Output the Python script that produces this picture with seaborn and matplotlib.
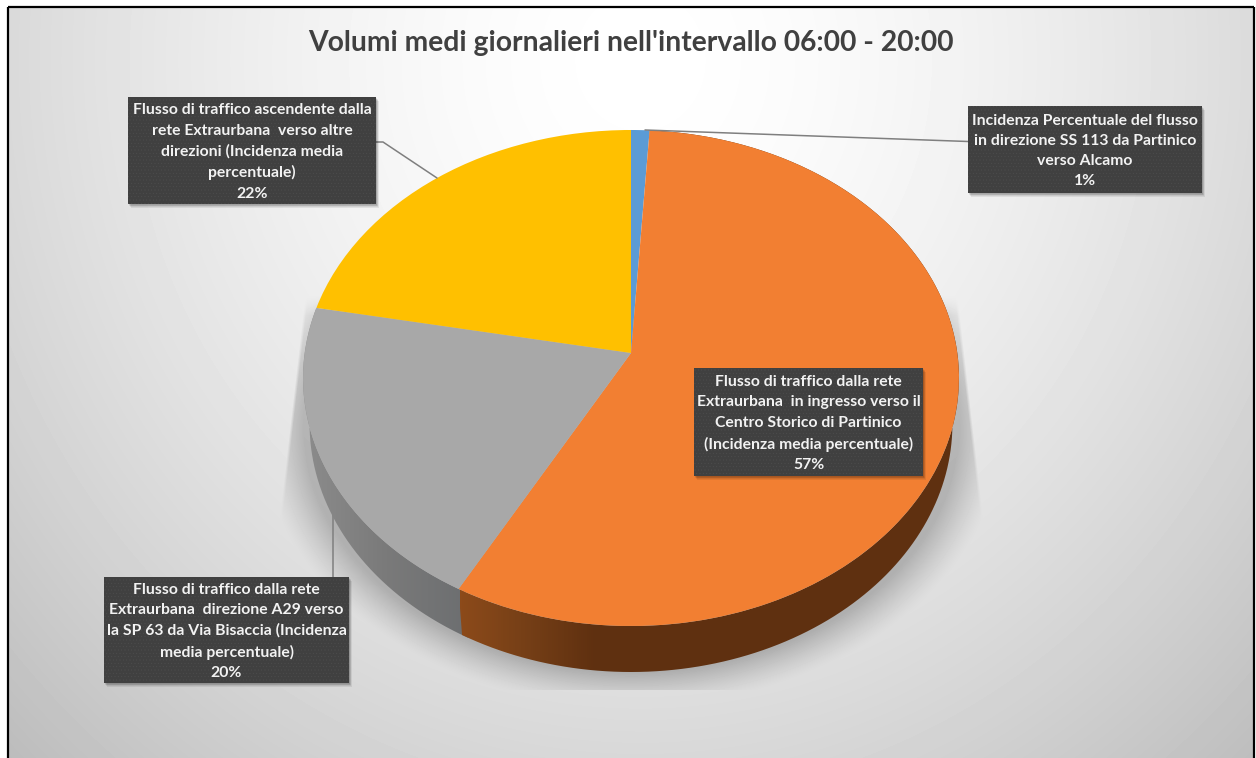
import numpy as np
import matplotlib
matplotlib.use("Agg")
import matplotlib.pyplot as plt
from matplotlib.path import Path
from matplotlib.patches import Rectangle
from matplotlib.transforms import Transform
from matplotlib.colors import LinearSegmentedColormap
import seaborn as sns

TITLE = "Volumi medi giornalieri nell'intervallo 06:00 - 20:00"
values = [1, 57, 20, 22]
colors = ["#5B9BD5", "#F27F32", "#A8A8A8", "#FFC000"]
labels = [
    "Incidenza Percentuale del flusso\nin direzione SS 113 da Partinico\nverso Alcamo\n1%",
    "Flusso di traffico dalla rete\nExtraurbana  in ingresso verso il\nCentro Storico di Partinico\n(Incidenza media percentuale)\n57%",
    "Flusso di traffico dalla rete\nExtraurbana  direzione A29 verso\nla SP 63 da Via Bisaccia (Incidenza\nmedia percentuale)\n20%",
    "Flusso di traffico ascendente dalla\nrete Extraurbana  verso altre\ndirezioni (Incidenza media\npercentuale)\n22%",
]
boxes = [(968, 106, 1202, 193), (694, 368, 923, 476), (104, 577, 349, 683), (128, 97, 376, 204)]
leaders = [
    ([968, 645], [141.5, 130]),
    None,
    ([333, 333], [577, 510]),
    ([376, 383, 437], [142, 142, 178]),
]

W, H = 1256, 758
sns.set_theme(style="white")
plt.rcParams["font.family"] = ["Lato", "DejaVu Sans"]
plt.rcParams["hatch.linewidth"] = 0.3
fig = plt.figure(figsize=(W / 100, H / 100), dpi=100, facecolor="white")
ax = fig.add_axes([0, 0, 1, 1])


class Tilt(Transform):
    """Perspective view of the unit pie, in pixels of the figure axes."""
    input_dims = output_dims = 2
    is_affine = False

    def transform_non_affine(self, xy):
        xy = np.asarray(xy, float)
        d = 1 + 0.1008 * xy[:, 1]
        return np.column_stack([631 + 326.3 * xy[:, 0] / d,
                                (353 - 209.9 * xy[:, 1]) / d])


def reset():
    ax.set_aspect("auto")
    ax.set_xlim(0, W)
    ax.set_ylim(H, 0)
    ax.axis("off")


# background
yy, xx = np.mgrid[0:H, 0:W].astype(float)
r = np.hypot((xx - 640) / 760, (yy - 60) / 820)
bg = 255 - 68 * (r / 1.2) ** 1.6
# soft shadow behind the pie
e = np.hypot((xx - 631) / 328, (yy - 424) / 248)
hw = 328 + (yy - 310) * 0.115
side = np.clip((hw - np.abs(xx - 631)) / 3, 0, 1)
shade = 50 * np.clip(1 - (e - 1) / 0.14, 0, 1) ** 1.3
shade = shade * side * np.clip((yy - 295) / 20, 0, 1) * (yy < 690)
bg = bg - shade
ax.imshow(bg, cmap="gray", vmin=0, vmax=255, extent=(0, W, H, 0), aspect="auto", zorder=0,
          interpolation="bilinear")

# side walls
depth = 46
stops = np.cumsum([0] + values) / sum(values) * 2 * np.pi
ramps = {
    2: ([(0, "#8C8C8C"), (0.5, "#7A7A7A"), (1, "#6C6E70")], (303, 470), 1.9, 0.02),
    1: ([(0, "#8C4A1A"), (0.12, "#774017"), (0.27, "#5F3010"), (1, "#5F3010")], (460, 960), 2.0, 0.0),
}
tr = Tilt()
for i, (ramp, span, z, overlap) in ramps.items():
    th = np.linspace(stops[i] - overlap, stops[i + 1], 300)
    pts = tr.transform_non_affine(np.column_stack([np.sin(th), np.cos(th)]))
    low = np.column_stack([631 + (pts[:, 0] - 631) * 0.98, pts[:, 1] + depth])
    poly = np.vstack([pts, low[::-1], pts[:1]])
    cmap = LinearSegmentedColormap.from_list("s", ramp)
    grad = np.linspace(0, 1, 500)[None, :]
    im = ax.imshow(grad, cmap=cmap, extent=(span[0], span[1], H, 0), aspect="auto", zorder=z)
    im.set_clip_path(Path(poly), ax.transData)

# pie top
wedges, _ = ax.pie(values, colors=sns.color_palette(colors), startangle=90, counterclock=False,
                   radius=1, wedgeprops={"linewidth": 0})
for w in wedges:
    w.set_transform(Tilt() + ax.transData)
    w.set_zorder(3)
    w.set_clip_on(False)
reset()

# leaders
for ld in leaders:
    if ld is not None:
        ax.plot(ld[0], ld[1], color="#7f7f7f", lw=1.1, zorder=1.5 if ld[0][0] == 333 else 4)

# label boxes
for txt, (x0, y0, x1, y1) in zip(labels, boxes):
    for k in range(1, 6):
        ax.add_patch(Rectangle((x0 + k * 0.6, y0 + k * 0.8), x1 - x0, y1 - y0, fc="black", alpha=0.07,
                               lw=0, zorder=5))
    ax.add_patch(Rectangle((x0, y0), x1 - x0, y1 - y0, fc="#404040", lw=0, zorder=6))
    ax.add_patch(Rectangle((x0, y0), x1 - x0, y1 - y0, fc="none", ec="#4e4e4e", hatch=".....", lw=0, zorder=6.5))
    ax.text((x0 + x1) / 2, (y0 + y1) / 2 + 1.5, txt, color="#f2f2f2", ha="center", va="center",
            fontsize=11.3, fontweight="bold", linespacing=1.57, zorder=7)

ax.text(631, 43, TITLE, ha="center", va="center", fontsize=20.3, fontweight="bold", color="#404040", zorder=7)

# frame
ax.add_patch(Rectangle((0, 0), 8, H, fc="white", lw=0, zorder=7.5))
ax.add_patch(Rectangle((0, 0), W, 7, fc="white", lw=0, zorder=7.5))
ax.add_patch(Rectangle((1254, 0), 2, H, fc="white", lw=0, zorder=7.5))
ax.plot([8, 8], [H, 7], color="black", lw=1.6, zorder=8, solid_capstyle="butt")
ax.plot([8, 1254], [7, 7], color="black", lw=1.6, zorder=8, solid_capstyle="butt")
ax.plot([1254, 1254], [7, H], color="black", lw=1.6, zorder=8, solid_capstyle="butt")
reset()
fig.savefig("out.png", dpi=100)
